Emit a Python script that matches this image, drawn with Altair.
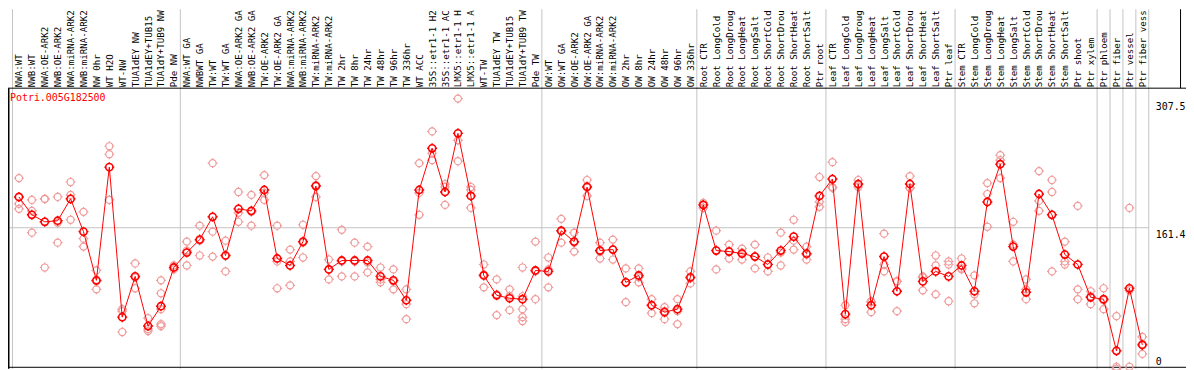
import json
import pandas as pd
import altair as alt

gene = "Potri.005G182500"

labels = [
    "NWA:WT", "NWB:WT", "NWA:OE-ARK2", "NWB:OE-ARK2", "NWA:miRNA-ARK2", "NWB:miRNA-ARK2",
    "NW 0hr", "WT H2O", "WT-NW", "TUA1dEY NW", "TUA1dEY+TUB15", "TUA1dY+TUB9 NW", "Pde NW",
    "NWA:WT GA", "NWBWT GA", "TW:WT", "TW:WT GA", "NWA:OE-ARK2 GA", "NWB:OE-ARK2 GA",
    "TW:OE-ARK2", "TW:OE-ARK2 GA", "NWA:miRNA-ARK2", "NWB:miRNA-ARK2", "TW:miRNA-ARK2",
    "TW:miRNA-ARK2", "TW 2hr", "TW 8hr", "TW 24hr", "TW 48hr", "TW 96hr", "TW 336hr",
    "WT ACC", "35S::etr1-1 H2", "35S::etr1-1 AC", "LMX5::etr1-1 H", "LMX5::etr1-1 A",
    "WT-TW", "TUA1dEY TW", "TUA1dEY+TUB15", "TUA1dY+TUB9 TW", "Pde TW",
    "OW:WT", "OW:WT GA", "OW:OE-ARK2", "OW:OE-ARK2 GA", "OW:miRNA-ARK2", "OW:miRNA-ARK2",
    "OW 2hr", "OW 8hr", "OW 24hr", "OW 48hr", "OW 96hr", "OW 336hr",
    "Root CTR", "Root LongCold", "Root LongDroug", "Root LongHeat", "Root LongSalt",
    "Root ShortCold", "Root ShortDrou", "Root ShortHeat", "Root ShortSalt", "Ptr root",
    "Leaf CTR", "Leaf LongCold", "Leaf LongDroug", "Leaf LongHeat", "Leaf LongSalt",
    "Leaf ShortCold", "Leaf ShortDrou", "Leaf ShortHeat", "Leaf ShortSalt", "Ptr leaf",
    "Stem CTR", "Stem LongCold", "Stem LongDroug", "Stem LongHeat", "Stem LongSalt",
    "Stem ShortCold", "Stem ShortDrou", "Stem ShortHeat", "Stem ShortSalt", "Ptr shoot",
    "Ptr xylem", "Ptr phloem", "Ptr fiber", "Ptr vessel", "Ptr fiber vess",
]

means = [
    196.6, 176.2, 168.2, 169.4, 194.4, 156.9, 101.2, 230.7, 59.1, 105.7, 48.9, 71.6, 115.9,
    133.0, 147.8, 173.9, 129.6, 183.0, 180.7, 204.6, 126.2, 118.2, 145.5, 209.1, 113.7,
    123.9, 123.9, 123.9, 105.7, 101.2, 78.4, 204.6, 252.3, 202.3, 269.4, 197.8,
    106.8, 84.1, 80.7, 79.6, 112.5, 111.4, 158.0, 145.5, 208.0, 135.3, 136.4,
    98.9, 106.8, 72.7, 64.8, 68.2, 104.6, 187.5, 135.3, 134.1, 131.8, 128.4,
    119.3, 135.3, 151.2, 131.8, 197.8, 217.1, 62.5, 211.4, 72.7, 128.4,
    88.7, 211.4, 100.0, 111.4, 105.7, 118.2, 88.7, 190.9, 234.1, 139.8,
    87.5, 200.0, 176.2, 130.7, 119.3, 81.8, 79.6, 20.5, 92.1, 27.3,
]

replicates = [
    [218.2, 188.7, 183.0], [193.2, 180.7, 155.7], [194.4, 194.4, 115.9], [196.6, 167.1, 144.3],
    [213.7, 198.9, 170.5], [179.6, 148.9, 139.8], [112.5, 100.0, 90.9], [254.6, 245.5, 193.2],
    [68.2, 65.9, 42.1], [120.5, 104.6, 92.1], [58.0, 45.5, 43.2],
    [101.2, 86.4, 68.2, 51.1, 48.9], [118.2, 115.9, 113.7], [145.5, 135.3, 118.2],
    [163.7, 146.6, 129.6], [235.3, 156.9, 128.4], [146.6, 129.6, 111.4], [202.3, 178.4, 168.2],
    [198.9, 179.6, 163.7], [221.6, 201.2, 193.2], [163.7, 122.8, 92.1], [136.4, 122.8, 95.5],
    [164.8, 144.3, 127.3], [220.5, 210.3, 196.6], [125.0, 113.7, 102.3], [159.1, 122.8, 105.7],
    [144.3, 122.8, 105.7], [139.8, 121.6, 110.3], [115.9, 102.3, 98.9], [113.7, 100.0, 90.9],
    [90.9, 73.9, 56.8], [235.3, 201.2, 176.2], [271.6, 246.6, 238.7], [211.4, 208.0, 187.5],
    [309.2, 261.4, 237.5], [208.0, 204.6, 184.1], [119.3, 108.0, 93.2], [102.3, 85.2, 61.4],
    [90.9, 83.0, 67.1], [115.9, 83.0, 68.2, 59.1, 54.6], [145.5, 111.4, 79.6], [127.3, 113.7, 93.2],
    [171.6, 156.9, 144.3], [155.7, 144.3, 134.1], [216.0, 209.1, 197.8], [144.3, 134.1, 126.2],
    [147.8, 136.4, 125.0], [114.8, 98.9, 76.2], [114.8, 104.6, 98.9], [79.6, 72.7, 63.6],
    [70.5, 65.9, 56.8], [79.6, 65.9, 51.1], [111.4, 103.4, 97.7], [189.8, 187.5, 184.1],
    [158.0, 135.3, 113.7], [142.1, 134.1, 126.2], [137.5, 133.0, 125.0], [142.1, 128.4, 114.8],
    [127.3, 119.3, 111.4], [155.7, 133.0, 118.2], [170.5, 146.6, 136.4], [139.8, 130.7, 125.0],
    [219.4, 191.0, 185.3], [236.4, 208.0, 206.9], [72.7, 56.8, 53.4], [216.0, 210.3, 208.0],
    [77.3, 76.2, 64.8], [154.6, 119.3, 111.4], [100.0, 100.0, 65.9], [220.5, 206.9, 206.9],
    [105.7, 104.6, 89.8], [129.6, 118.2, 85.2], [122.8, 119.3, 77.3], [126.2, 114.8, 113.7],
    [106.8, 85.2, 75.0], [212.5, 200.0, 162.5], [244.4, 238.7, 218.2], [168.2, 142.1, 122.8],
    [102.3, 90.9, 79.6], [226.2, 192.1, 180.7], [216.0, 202.3, 111.4], [145.5, 122.8, 119.3],
    [186.4, 90.9, 79.6], [88.7, 83.0, 73.9], [92.1, 78.4, 68.2], [60.2, 2.3, 0.0],
    [184.1, 89.8, 2.3], [36.4, 28.4, 17.0],
]

separators = [-0.5, 12.5, 40.5, 52.5, 62.5, 72.5, 83.5, 84.5, 85.5, 86.5, 87.5]
y_ticks = [0, 161.4, 307.5]
grid_values = [161.4]

W, H, TOP = 1186, 282, 80
X_MIN, X_MAX = -11 / 13, (W - 11) / 13
Y_MAX = 320.5

FONT = "DejaVu Sans Mono"
RED = "#ff0000"
PINK = "#f09a9a"
GRAY = "#c4c4c4"

ticks_path = "M0,-1L0,-1.4M0,1L0,1.4M-1,0L-1.4,0M1,0L1.4,0"

xs = alt.Scale(domain=[X_MIN, X_MAX], nice=False, zero=False)
ys = alt.Scale(domain=[0, Y_MAX], nice=False, zero=True)

x_axis = alt.Axis(
    orient="top", values=list(range(len(labels))),
    labelExpr=json.dumps(labels) + "[datum.value]",
    labelAngle=270, labelAlign="left", labelBaseline="middle", labelPadding=2,
    labelFont=FONT, labelFontSize=9.2, labelColor="#000000", labelOverlap=False,
    labelFlush=False, labelLimit=400, ticks=False, domain=False, grid=False, title=None,
)
y_axis = alt.Axis(
    orient="right", values=y_ticks, offset=-33, format=".1~f",
    labelAlign="left",
    labelBaseline={"condition": {"test": "datum.value === 0", "value": "alphabetic"}, "value": "top"},
    labelOffset={"condition": {"test": "datum.value === 0", "value": -4}, "value": 1.5},
    labelFlush=False, labelPadding=2,
    labelFont=FONT, labelFontSize=10, labelColor="#000000", labelOverlap=False,
    ticks=False, domain=False, grid=False, title=None,
)

mean_df = pd.DataFrame({"i": list(range(len(means))), "v": means, "label": labels})
rep_rows = [{"i": i, "v": v} for i, vals in enumerate(replicates) for v in vals]
rep_df = pd.DataFrame(rep_rows)
sep_df = pd.DataFrame({"s": separators})
grid_df = pd.DataFrame({"g": grid_values, "a": [X_MIN], "b": [separators[-1]]})
one = pd.DataFrame({"k": [0]})
title_df = pd.DataFrame({"t": [gene]})

enc_x = alt.X("i:Q", scale=xs, axis=x_axis)
enc_y = alt.Y("v:Q", scale=ys, axis=y_axis)

sep_layer = alt.Chart(sep_df).mark_rule(color=GRAY, strokeWidth=1).encode(
    x=alt.X("s:Q", scale=xs, axis=x_axis),
    y=alt.value(-TOP), y2=alt.value(H),
)
grid_layer = alt.Chart(grid_df).mark_rule(color=GRAY, strokeWidth=1).encode(
    y=alt.Y("g:Q", scale=ys, axis=y_axis),
    x=alt.X("a:Q", scale=xs, axis=x_axis), x2="b:Q",
)
frame_top = alt.Chart(one).mark_rule(color="#000000", strokeWidth=1).encode(
    x=alt.value(0), x2=alt.value(W), y=alt.value(-0.5))
frame_bottom = alt.Chart(one).mark_rule(color="#000000", strokeWidth=1).encode(
    x=alt.value(0), x2=alt.value(W), y=alt.value(280.5))
frame_left = alt.Chart(one).mark_rule(color="#000000", strokeWidth=1.5).encode(
    x=alt.value(0.75), y=alt.value(-0.5), y2=alt.value(H))
frame_right = alt.Chart(one).mark_rule(color="#000000", strokeWidth=1).encode(
    x=alt.value(1180.5), y=alt.value(-TOP), y2=alt.value(-0.5))

rep_circles = alt.Chart(rep_df).mark_point(
    shape="circle", filled=False, color=PINK, strokeWidth=1.2, size=50, opacity=1,
).encode(x=enc_x, y=enc_y)
rep_ticks = alt.Chart(rep_df).mark_point(
    shape=ticks_path, filled=False, color=PINK, strokeWidth=1.2, size=50, opacity=1,
).encode(x=enc_x, y=enc_y)
line_layer = alt.Chart(mean_df).mark_line(color=RED, strokeWidth=1).encode(x=enc_x, y=enc_y)
mean_circles = alt.Chart(mean_df).mark_point(
    shape="circle", filled=False, color=RED, strokeWidth=1.6, size=52, opacity=1,
).encode(x=enc_x, y=enc_y)
mean_ticks = alt.Chart(mean_df).mark_point(
    shape=ticks_path, filled=False, color=RED, strokeWidth=1.4, size=52, opacity=1,
).encode(x=enc_x, y=enc_y)
title_layer = alt.Chart(title_df).mark_text(
    font=FONT, fontSize=10, color=RED, align="left", baseline="middle",
).encode(x=alt.value(2), y=alt.value(9), text="t:N")

chart = alt.layer(
    sep_layer, grid_layer, frame_top, frame_bottom, frame_left, frame_right,
    rep_circles, rep_ticks, line_layer, mean_circles, mean_ticks, title_layer,
).properties(
    width=W, height=H,
    padding={"top": TOP, "left": 0, "right": 0, "bottom": 0},
    autosize=alt.AutoSizeParams(type="none"),
).configure_view(stroke=None)

chart.save("out.html", embed_options={"renderer": "svg", "actions": False})
